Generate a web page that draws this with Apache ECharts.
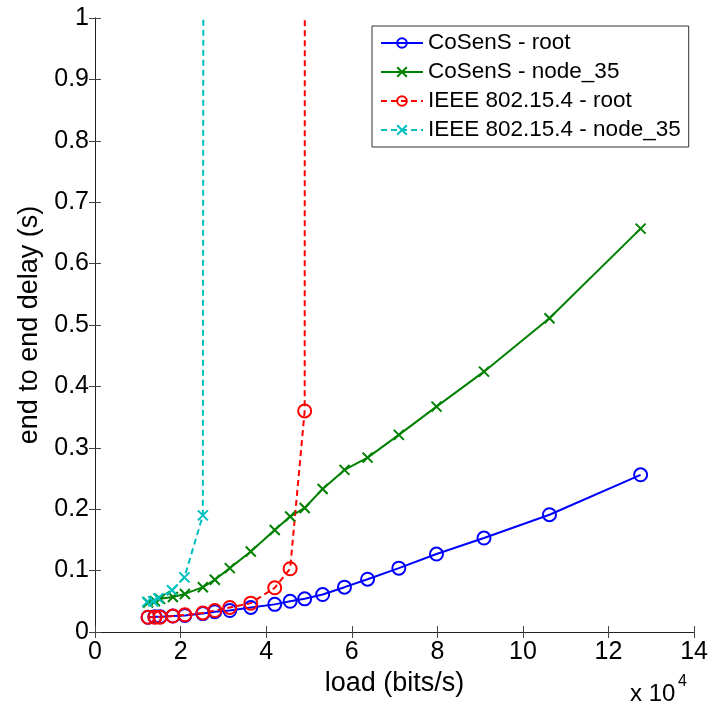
<!DOCTYPE html>
<html>
<head>
<meta charset="utf-8">
<script src="https://cdn.jsdelivr.net/npm/echarts@6/dist/echarts.min.js"></script>
<style>
  html, body { margin: 0; padding: 0; background: #fff; }
  #chart { width: 711px; height: 713px; }
</style>
</head>
<body>
<div id="chart"></div>
<script>
// Load values in bits/s (axis displays them in units of 10^4)
const cosensLoad = [12400, 14000, 15200, 18200, 21000, 25200, 28000, 31500, 36400, 42000, 45600, 49000, 53200, 58300, 63700, 71000, 79800, 90900, 106200, 127500];
const cosensRootDelay = [0.024, 0.025, 0.025, 0.026, 0.027, 0.030, 0.033, 0.035, 0.040, 0.045, 0.050, 0.054, 0.061, 0.073, 0.086, 0.104, 0.127, 0.153, 0.191, 0.256];
const cosensNodeDelay = [0.048, 0.050, 0.054, 0.057, 0.062, 0.073, 0.085, 0.104, 0.131, 0.166, 0.188, 0.202, 0.233, 0.264, 0.284, 0.321, 0.367, 0.424, 0.511, 0.657];

const ieeeRootLoad = [12400, 14000, 15200, 18200, 21000, 25200, 28000, 31500, 36400, 42000, 45600, 49000, 49100];
const ieeeRootDelay = [0.024, 0.024, 0.024, 0.026, 0.028, 0.031, 0.035, 0.040, 0.047, 0.072, 0.103, 0.360, 3.0];

const ieeeNodeLoad = [12200, 13600, 14800, 18000, 20900, 25200, 25600];
const ieeeNodeDelay = [0.049, 0.050, 0.055, 0.068, 0.089, 0.190, 3.0];

const seriesNames = ['CoSenS - root', 'CoSenS - node_35', 'IEEE 802.15.4 - root', 'IEEE 802.15.4 - node_35'];
const xTickLabels = ['0', '2', '4', '6', '8', '10', '12', '14'];
const yTickLabels = ['0', '0.1', '0.2', '0.3', '0.4', '0.5', '0.6', '0.7', '0.8', '0.9', '1'];
const xScaleText = 'x 10';
const xScaleExp = '4';

const zip = (xs, ys) => xs.map((x, i) => [x, ys[i]]);
const FONT = '"Liberation Sans", Arial, sans-serif';
const X_MARK = 'path://M0,0L10,10M10,0L0,10';

const chart = echarts.init(document.getElementById('chart'), null, { renderer: 'canvas' });

function circleSeries(name, data, color, dashed) {
  return {
    name, type: 'line', data, clip: true,
    symbol: 'circle', symbolSize: 13,
    itemStyle: { color: 'transparent', borderColor: color, borderWidth: 2 },
    lineStyle: { color, width: 2, type: dashed ? [6, 4] : 'solid' },
    emphasis: { disabled: true }, z: 3
  };
}
function crossSeries(name, data, color, dashed) {
  return {
    name, type: 'line', data, clip: true,
    symbol: X_MARK, symbolSize: 10,
    itemStyle: { color: 'transparent', borderColor: color, borderWidth: 2 },
    lineStyle: { color, width: 2, type: dashed ? [6, 4] : 'solid' },
    emphasis: { disabled: true }, z: 3
  };
}

const axisCommon = {
  axisLine: { show: true, lineStyle: { color: '#222', width: 1 } },
  axisTick: { show: true, inside: true, length: 6, lineStyle: { color: '#444' } },
  splitLine: { show: false }
};

const option = {
  backgroundColor: '#fff',
  animation: false,
  grid: { left: 95, right: 16, top: 18, bottom: 81, containLabel: false },
  legend: {
    orient: 'vertical',
    left: 372, top: 26,
    data: seriesNames,
    itemWidth: 42, itemHeight: 12, itemGap: 5,
    padding: [5, 8, 5, 8],
    backgroundColor: '#fff',
    borderColor: '#333', borderWidth: 1,
    textStyle: { fontFamily: FONT, fontSize: 22.5, color: '#000', lineHeight: 24, padding: [0, 0, 0, 0] },
    selectedMode: false
  },
  xAxis: [
    Object.assign({}, axisCommon, {
      type: 'value', min: 0, max: 140000, interval: 20000, position: 'bottom',
      axisLabel: {
        fontFamily: FONT, fontSize: 25, color: '#000', margin: 8,
        formatter: v => xTickLabels[Math.round(v / 20000)]
      },
      name: 'load (bits/s)', nameLocation: 'middle', nameGap: 36,
      nameTextStyle: { fontFamily: FONT, fontSize: 27, color: '#000' }
    }),
    Object.assign({}, axisCommon, {
      type: 'value', min: 0, max: 140000, interval: 20000, position: 'top',
      axisLabel: { show: false }
    })
  ],
  yAxis: [
    Object.assign({}, axisCommon, {
      type: 'value', min: 0, max: 1, interval: 0.1, position: 'left',
      axisLabel: {
        fontFamily: FONT, fontSize: 25, color: '#000', margin: 6,
        formatter: v => yTickLabels[Math.round(v * 10)]
      },
      name: 'end to end delay (s)', nameLocation: 'middle', nameGap: 52, nameRotate: 90,
      nameTextStyle: { fontFamily: FONT, fontSize: 27, color: '#000' }
    }),
    Object.assign({}, axisCommon, {
      type: 'value', min: 0, max: 1, interval: 0.1, position: 'right',
      axisLabel: { show: false }
    })
  ],
  graphic: [
    {
      type: 'text', left: 630, top: 682, z: 10,
      style: { text: xScaleText, fontFamily: FONT, fontSize: 24, fill: '#000' }
    },
    {
      type: 'text', left: 678, top: 674, z: 10,
      style: { text: xScaleExp, fontFamily: FONT, fontSize: 16, fill: '#000' }
    }
  ],
  series: [
    circleSeries(seriesNames[0], zip(cosensLoad, cosensRootDelay), '#0000ff', false),
    crossSeries(seriesNames[1], zip(cosensLoad, cosensNodeDelay), '#008000', false),
    circleSeries(seriesNames[2], zip(ieeeRootLoad, ieeeRootDelay), '#ff0000', true),
    crossSeries(seriesNames[3], zip(ieeeNodeLoad, ieeeNodeDelay), '#00bfbf', true)
  ]
};

chart.setOption(option);
</script>
</body>
</html>
